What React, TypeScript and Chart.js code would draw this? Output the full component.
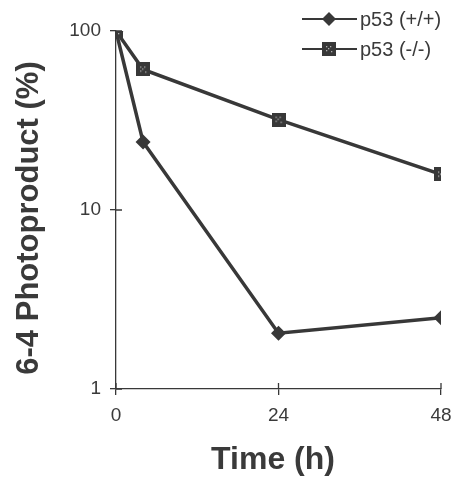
import React, { useEffect, useRef } from "react";
import { Chart, registerables } from "chart.js";

Chart.register(...registerables);

const timeHours = [0, 4, 24, 48];
const wildTypeValues = [100, 24, 2.05, 2.5];
const knockoutValues = [100, 61, 32, 15.8];
const xTickValues = [0, 24, 48];
const yTickValues = [1, 10, 100];
const seriesLabels = ["p53 (+/+)", "p53 (-/-)"];
const xTitle = "Time (h)";
const yTitle = "6-4 Photoproduct (%)";

const INK = "#383838";
const TEXT = "#3a3a3a";
const FONT = "'Liberation Sans', Arial, Helvetica, sans-serif";

function makeSquareMarker(): HTMLCanvasElement {
  const c = document.createElement("canvas");
  c.width = 14;
  c.height = 14;
  const g = c.getContext("2d")!;
  g.fillStyle = INK;
  g.fillRect(0, 0, 14, 14);
  g.fillStyle = "#b0b0b0";
  const dots = [
    [4, 4],
    [8, 4],
    [6, 6],
    [4, 8],
    [9, 9],
  ];
  for (const [dx, dy] of dots) g.fillRect(dx, dy, 1.3, 1.3);
  return c;
}

export default function App() {
  const canvasRef = useRef<HTMLCanvasElement | null>(null);

  useEffect(() => {
    const canvas = canvasRef.current;
    if (!canvas) return;
    const square = makeSquareMarker();

    const innerTicks = {
      id: "innerTicks",
      afterDraw(chart: any) {
        const ctx = chart.ctx;
        const xs = chart.scales.x;
        const ys = chart.scales.y;
        const area = chart.chartArea;
        ctx.save();
        ctx.strokeStyle = INK;
        ctx.lineWidth = 1.3;
        ctx.beginPath();
        for (const v of xTickValues) {
          const px = xs.getPixelForValue(v);
          ctx.moveTo(px, area.bottom);
          ctx.lineTo(px, area.bottom - 6);
        }
        for (const v of yTickValues) {
          const py = ys.getPixelForValue(v);
          ctx.moveTo(area.left, py);
          ctx.lineTo(area.left + 6, py);
        }
        ctx.stroke();
        ctx.restore();
      },
    };

    const axisTitles = {
      id: "axisTitles",
      afterDraw(chart: any) {
        const ctx = chart.ctx;
        ctx.save();
        ctx.fillStyle = TEXT;
        ctx.textAlign = "center";
        ctx.textBaseline = "middle";
        ctx.font = `bold 32px ${FONT}`;
        ctx.fillText(xTitle, 273, 460);
        ctx.translate(29, 218);
        ctx.rotate(-Math.PI / 2);
        ctx.font = `bold 31px ${FONT}`;
        ctx.fillText(yTitle, 0, 0);
        ctx.restore();
      },
    };

    const customLegend = {
      id: "customLegend",
      afterDraw(chart: any) {
        const ctx = chart.ctx;
        ctx.save();
        const rows = [
          { y: 19, label: seriesLabels[0], kind: "diamond" },
          { y: 49, label: seriesLabels[1], kind: "square" },
        ];
        for (const r of rows) {
          ctx.strokeStyle = INK;
          ctx.lineWidth = 2;
          ctx.beginPath();
          ctx.moveTo(302, r.y);
          ctx.lineTo(357, r.y);
          ctx.stroke();
          if (r.kind === "diamond") {
            ctx.fillStyle = INK;
            ctx.beginPath();
            ctx.moveTo(329, r.y - 7);
            ctx.lineTo(336, r.y);
            ctx.lineTo(329, r.y + 7);
            ctx.lineTo(322, r.y);
            ctx.closePath();
            ctx.fill();
          } else {
            ctx.drawImage(square, 329 - 7, r.y - 7);
          }
          ctx.fillStyle = TEXT;
          ctx.font = `20px ${FONT}`;
          ctx.textBaseline = "middle";
          ctx.textAlign = "left";
          ctx.fillText(r.label, 360, r.y + 1);
        }
        ctx.restore();
      },
    };

    const chart = new Chart(canvas, {
      type: "line",
      data: {
        datasets: [
          {
            label: seriesLabels[1],
            data: timeHours.map((t, i) => ({ x: t, y: knockoutValues[i] })),
            borderColor: INK,
            backgroundColor: INK,
            borderWidth: 3.5,
            pointStyle: square as any,
            pointRadius: 7,
            order: 0,
          },
          {
            label: seriesLabels[0],
            data: timeHours.map((t, i) => ({ x: t, y: wildTypeValues[i] })),
            borderColor: INK,
            backgroundColor: INK,
            borderWidth: 3.5,
            pointStyle: "rectRot",
            pointRadius: 7.5,
            pointBorderWidth: 0,
            order: 1,
          },
        ],
      },
      options: {
        responsive: false,
        animation: false,
        layout: { padding: { left: 0, top: 31, right: 14, bottom: 0 } },
        plugins: {
          legend: { display: false },
          tooltip: { enabled: false },
        },
        scales: {
          x: {
            type: "linear",
            min: 0,
            max: 48,
            afterBuildTicks: (s: any) => {
              s.ticks = xTickValues.map((v) => ({ value: v }));
            },
            afterFit: (s: any) => {
              s.height = 88;
              s.paddingLeft = 0;
              s.paddingRight = 0;
            },
            ticks: {
              color: TEXT,
              font: { family: FONT, size: 19 },
              padding: 9,
              maxRotation: 0,
            },
            grid: {
              drawOnChartArea: false,
              drawTicks: true,
              tickLength: 6,
              color: INK,
              lineWidth: 1.3,
            },
            border: { display: true, color: INK, width: 1.3 },
          },
          y: {
            type: "logarithmic",
            min: 1,
            max: 100,
            afterBuildTicks: (s: any) => {
              s.ticks = yTickValues.map((v) => ({ value: v }));
            },
            afterFit: (s: any) => {
              s.width = 116;
              s.paddingTop = 0;
              s.paddingBottom = 0;
            },
            ticks: {
              color: TEXT,
              font: { family: FONT, size: 19 },
              padding: 9,
              callback: (v: any) => String(v),
            },
            grid: {
              drawOnChartArea: false,
              drawTicks: true,
              tickLength: 6,
              color: INK,
              lineWidth: 1.3,
            },
            border: { display: true, color: INK, width: 1.3 },
          },
        },
      },
      plugins: [innerTicks, axisTitles, customLegend],
    });

    return () => chart.destroy();
  }, []);

  return (
    <div style={{ position: "fixed", left: 0, top: 0, width: 455, height: 477, background: "#fff" }}>
      <canvas ref={canvasRef} width={455} height={477} style={{ display: "block" }} />
    </div>
  );
}
